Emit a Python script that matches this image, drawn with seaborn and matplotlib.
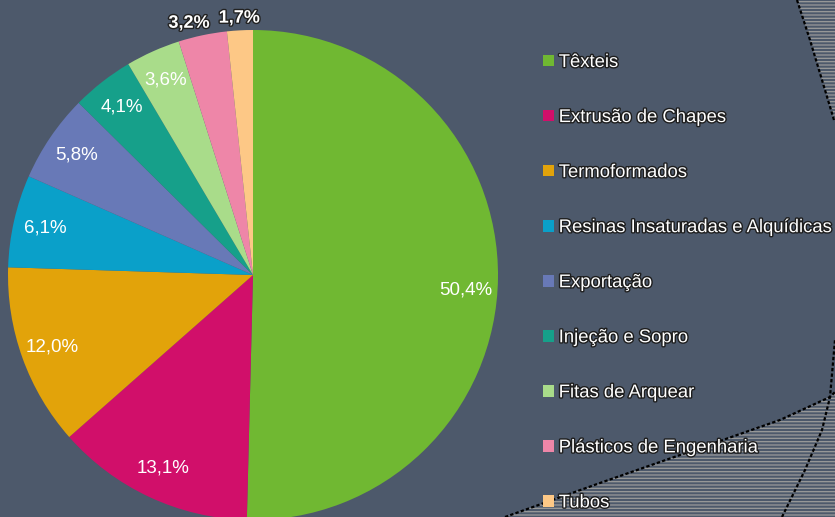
import numpy as np
import matplotlib
matplotlib.use('Agg')
import matplotlib.pyplot as plt
import matplotlib.patheffects as pe
from matplotlib.patches import Polygon
import seaborn as sns

# ========== DATA ==========
categories = ['Têxteis', 'Extrusão de Chapes', 'Termoformados',
              'Resinas Insaturadas e Alquídicas', 'Exportação',
              'Injeção e Sopro', 'Fitas de Arquear',
              'Plásticos de Engenharia', 'Tubos']
shares = [50.4, 13.1, 12.0, 6.1, 5.8, 4.1, 3.6, 3.2, 1.7]
pct_labels = ['50,4%', '13,1%', '12,0%', '6,1%', '5,8%',
              '4,1%', '3,6%', '3,2%', '1,7%']

# ========== STYLE ==========
BG = '#4d596b'
colors = ['#70b832', '#d10f6a', '#e2a30a', '#0aa0c9', '#6879b7',
          '#16a08a', '#a9dc8a', '#ee86a8', '#fdc886']
sns.set_style('white', {'axes.facecolor': BG, 'figure.facecolor': BG})
plt.rcParams['font.family'] = ['Liberation Sans', 'DejaVu Sans']
plt.rcParams['hatch.linewidth'] = 0.9

W, H = 835, 517
fig = plt.figure(figsize=(W / 100, H / 100), dpi=100)
fig.patch.set_facecolor(BG)

# decorative hatched shapes at the right edge (pixel coords -> figure)
def px(pts):
    return [(x / W, 1 - y / H) for x, y in pts]

top_shape = [(797, 0), (810, 40), (822, 80), (834, 120), (835, 120), (835, 0)]
bot_shape = [(505, 517), (600, 483), (700, 448), (780, 420), (830, 397),
             (835, 392), (835, 517)]
right_edge = [(782, 517), (805, 470), (822, 430), (830, 397), (835, 340)]
for shp in (top_shape, bot_shape):
    fig.patches.append(Polygon(px(shp), closed=True, transform=fig.transFigure,
                               facecolor='none', edgecolor='#9a9a9a',
                               hatch='-----', linewidth=0, zorder=0))
for line in (top_shape[:4], bot_shape[:6], right_edge):
    xs, ys = zip(*px(line))
    fig.add_artist(plt.Line2D(xs, ys, transform=fig.transFigure,
                              color='black', lw=1.6, ls=(0, (1.5, 1.0)), zorder=1))

# ========== PIE ==========
cx, cy, r = 253, 275, 245
ax = fig.add_axes([(cx - r) / W, (H - cy - r) / H, 2 * r / W, 2 * r / H])
ax.set_facecolor('none')
wedges, _ = ax.pie(shares, colors=colors, startangle=90, counterclock=False,
                   radius=1, wedgeprops=dict(linewidth=0))
ax.set_xlim(-1, 1)
ax.set_ylim(-1, 1)
ax.set_aspect('equal')
ax.axis('off')

for i, (w, lab) in enumerate(zip(wedges, pct_labels)):
    ang = np.deg2rad((w.theta1 + w.theta2) / 2)
    if shares[i] < 3.5:
        # small slices: label outside, nudged apart
        d = 1.05
        shift = -0.045 if i == 7 else 0.0
        ax.text(d * np.cos(ang) + shift, d * np.sin(ang), lab,
                ha='center', va='center', color='white', fontsize=13,
                fontweight='bold',
                path_effects=[pe.withStroke(linewidth=2, foreground='#222222')])
    else:
        d = 0.87
        y_off = -0.05 if i == 0 else 0.0
        ax.text(d * np.cos(ang), d * np.sin(ang) + y_off, lab,
                ha='center', va='center', color='white', fontsize=13.5)

# ========== LEGEND ==========
leg = fig.legend(wedges, categories, loc='upper left',
                 bbox_to_anchor=(543 / W, 1 - 54 / H), frameon=False,
                 fontsize=13.3, labelcolor='white', handlelength=0.6,
                 handleheight=0.6, handletextpad=0.25, labelspacing=2.06,
                 borderpad=0, borderaxespad=0)
for t in leg.get_texts():
    t.set_path_effects([pe.withStroke(linewidth=2, foreground='#1e1e1e')])

fig.savefig('out.png', dpi=100, facecolor=BG)
